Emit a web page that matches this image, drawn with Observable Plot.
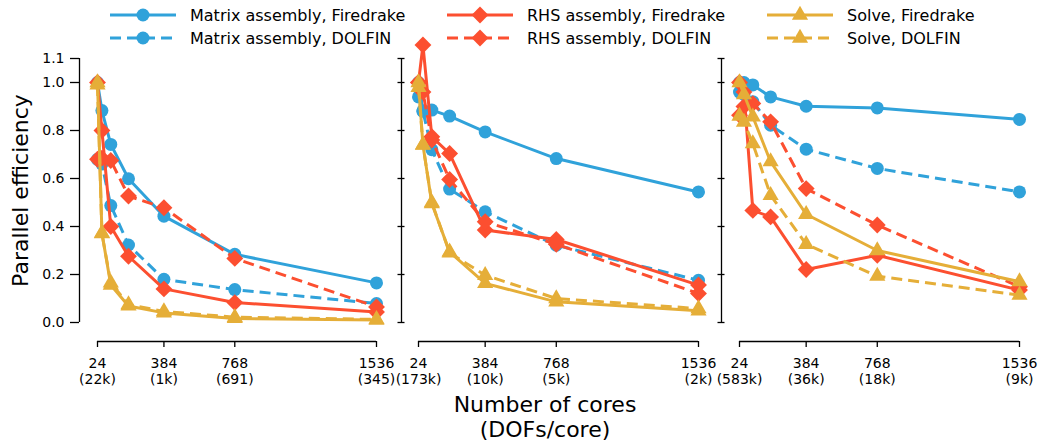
<!DOCTYPE html>
<html>
<head>
<meta charset="utf-8">
<script src="https://cdn.jsdelivr.net/npm/d3@7"></script>
<script src="https://cdn.jsdelivr.net/npm/@observablehq/plot@0.6"></script>
<style>
  body { margin: 0; background: #fff; font-family: "DejaVu Sans", sans-serif; }
  #fig { position: relative; width: 1040px; height: 443px; overflow: hidden; background: #fff; }
  #legend { position: absolute; left: 0; top: 0; }
  .panel { position: absolute; top: 50px; }
  #xlabel { position: absolute; left: 395px; width: 300px; top: 392px; text-align: center;
            font-size: 22px; line-height: 25px; color: #000; }
</style>
</head>
<body>
<div id="fig">
  <div id="legend"></div>
  <div class="panel" id="p1" style="left:0px"></div>
  <div class="panel" id="p2" style="left:400px"></div>
  <div class="panel" id="p3" style="left:720px"></div>
  <div id="xlabel">Number of cores<br>(DOFs/core)</div>
</div>
<script>
// ---------------- data ----------------
const cores = [24, 48, 96, 192, 384, 768, 1536];
const xTicks = [24, 384, 768, 1536];
const yTicks = [0, 0.2, 0.4, 0.6, 0.8, 1.0, 1.1];
const seriesNames = [
  "Matrix assembly, Firedrake", "Matrix assembly, DOLFIN",
  "RHS assembly, Firedrake", "RHS assembly, DOLFIN",
  "Solve, Firedrake", "Solve, DOLFIN"
];

// Panel 1
const dofs1 = ["22k", "1k", "691", "345"];
const p1MatrixFiredrake = [1.0, 0.883, 0.742, 0.599, 0.443, 0.284, 0.165];
const p1MatrixDolfin    = [0.68, 0.66, 0.487, 0.323, 0.180, 0.137, 0.079];
const p1RhsFiredrake    = [1.0, 0.80, 0.40, 0.276, 0.140, 0.083, 0.044];
const p1RhsDolfin       = [0.68, 0.685, 0.675, 0.527, 0.478, 0.267, 0.065];
const p1SolveFiredrake  = [1.0, 0.373, 0.156, 0.069, 0.040, 0.017, 0.010];
const p1SolveDolfin     = [0.99, 0.37, 0.165, 0.075, 0.046, 0.022, 0.013];

// Panel 2
const dofs2 = ["173k", "10k", "5k", "2k"];
const p2MatrixFiredrake = [1.0, 0.882, 0.885, 0.860, 0.794, 0.683, 0.544];
const p2MatrixDolfin    = [0.94, 0.88, 0.72, 0.556, 0.461, 0.322, 0.176];
const p2RhsFiredrake    = [1.0, 1.156, 0.774, 0.704, 0.385, 0.346, 0.156];
const p2RhsDolfin       = [1.0, 0.96, 0.76, 0.596, 0.420, 0.326, 0.121];
const p2SolveFiredrake  = [1.0, 0.739, 0.496, 0.294, 0.163, 0.086, 0.049];
const p2SolveDolfin     = [0.98, 0.74, 0.50, 0.290, 0.197, 0.100, 0.058];

// Panel 3
const dofs3 = ["583k", "36k", "18k", "9k"];
const p3MatrixFiredrake = [1.0, 1.0, 0.99, 0.94, 0.901, 0.894, 0.846];
const p3MatrixDolfin    = [0.96, 0.95, 0.92, 0.822, 0.722, 0.642, 0.544];
const p3RhsFiredrake    = [1.0, 0.96, 0.467, 0.44, 0.221, 0.28, 0.135];
const p3RhsDolfin       = [0.864, 0.90, 0.912, 0.836, 0.558, 0.406, 0.149];
const p3SolveFiredrake  = [1.0, 0.95, 0.857, 0.67, 0.451, 0.30, 0.17];
const p3SolveDolfin     = [0.86, 0.835, 0.745, 0.53, 0.326, 0.193, 0.114];

// ---------------- styles ----------------
const BLUE = "#30a2da", RED = "#fc4f30", YELLOW = "#e5ae38";
const styles = [
  {color: BLUE,   symbol: "circle",   r: 6.5, dash: false},
  {color: BLUE,   symbol: "circle",   r: 6.5, dash: true},
  {color: RED,    symbol: "diamond2", r: 7.6, dash: false},
  {color: RED,    symbol: "diamond2", r: 7.6, dash: true},
  {color: YELLOW, symbol: "triangle", r: 6.0, dash: false},
  {color: YELLOW, symbol: "triangle", r: 6.0, dash: true}
];
const DASH = "11,6";
const FONT = "DejaVu Sans";

function makePanel(vals, dofs, cfg) {
  const marks = [];
  // y spine (offset)
  marks.push(Plot.ruleX([24], {y1: 0, y2: 1.1, dx: cfg.spineDx, stroke: "black", strokeWidth: 1.3}));
  // x spine (offset)
  marks.push(Plot.ruleY([0], {x1: 24, x2: 1536, dy: 19, stroke: "black", strokeWidth: 1.3}));
  if (cfg.first) {
    marks.push(Plot.axisY({ticks: yTicks, tickSize: 9, tickPadding: 6, dx: cfg.spineDx,
      tickFormat: d => d.toFixed(1), fontSize: 14, label: null, strokeWidth: 1.3}));
    marks.push(Plot.text(["Parallel efficiency"], {frameAnchor: "left", textAnchor: "middle",
      rotate: -90, dx: -77, fontSize: 22, fill: "black"}));
  } else {
    marks.push(Plot.axisY({ticks: yTicks, tickSize: 7, tickPadding: 0, dx: cfg.spineDx + 3.5,
      tickFormat: () => "", label: null, strokeWidth: 1.3}));
  }
  const lab = new Map(xTicks.map((t, i) => [t, `${t}\n(${dofs[i]})`]));
  marks.push(Plot.axisX({ticks: xTicks, tickSize: 6, tickPadding: 10, dy: 19,
    tickFormat: d => lab.get(d), fontSize: 14, lineHeight: 1.1, label: null, strokeWidth: 1.3}));
  vals.forEach((v, k) => {
    const s = styles[k];
    const rows = cores.map((c, i) => ({cores: c, eff: v[i], series: seriesNames[k]}));
    const lineOpts = {x: "cores", y: "eff", stroke: s.color, strokeWidth: 3};
    if (s.dash) { lineOpts.strokeDasharray = DASH; lineOpts.strokeLinecap = "butt"; }
    marks.push(Plot.line(rows, lineOpts));
    marks.push(Plot.dot(rows, {x: "cores", y: "eff", fill: s.color, r: s.r, symbol: s.symbol}));
  });
  return Plot.plot({
    width: cfg.width, height: 393,
    marginLeft: cfg.marginLeft, marginRight: cfg.marginRight,
    marginTop: 8, marginBottom: 121,
    x: {domain: [24, 1536], axis: null},
    y: {domain: [0, 1.1], axis: null},
    style: {fontFamily: FONT, fontSize: "14px", overflow: "visible", background: "transparent", color: "black"},
    marks
  });
}

document.getElementById("p1").append(makePanel(
  [p1MatrixFiredrake, p1MatrixDolfin, p1RhsFiredrake, p1RhsDolfin, p1SolveFiredrake, p1SolveDolfin],
  dofs1, {width: 400, marginLeft: 97, marginRight: 24, first: true, spineDx: -18}));
document.getElementById("p2").append(makePanel(
  [p2MatrixFiredrake, p2MatrixDolfin, p2RhsFiredrake, p2RhsDolfin, p2SolveFiredrake, p2SolveDolfin],
  dofs2, {width: 320, marginLeft: 18, marginRight: 22, first: false, spineDx: -17}));
document.getElementById("p3").append(makePanel(
  [p3MatrixFiredrake, p3MatrixDolfin, p3RhsFiredrake, p3RhsDolfin, p3SolveFiredrake, p3SolveDolfin],
  dofs3, {width: 320, marginLeft: 19, marginRight: 21, first: false, spineDx: -18}));

// ---------------- legend ----------------
const symbolTypes = {circle: d3.symbolCircle, diamond2: d3.symbolDiamond2, triangle: d3.symbolTriangle};
const leg = d3.select("#legend").append("svg").attr("width", 1040).attr("height", 50)
  .style("font-family", FONT);
const colX = [110, 447, 767], rowY = [15, 38];
seriesNames.forEach((name, k) => {
  const s = styles[k];
  const x0 = colX[Math.floor(k / 2)], y = rowY[k % 2];
  const g = leg.append("g");
  const ln = g.append("line").attr("x1", x0).attr("x2", x0 + 66).attr("y1", y).attr("y2", y)
    .attr("stroke", s.color).attr("stroke-width", 3);
  if (s.dash) ln.attr("stroke-dasharray", DASH);
  g.append("path").attr("transform", `translate(${x0 + 33},${y})`)
    .attr("d", d3.symbol(symbolTypes[s.symbol], Math.PI * s.r * s.r)())
    .attr("fill", s.color);
  g.append("text").attr("x", x0 + 80).attr("y", y).attr("dy", "0.36em")
    .attr("font-size", 16).attr("fill", "black").text(name);
});
</script>
</body>
</html>
